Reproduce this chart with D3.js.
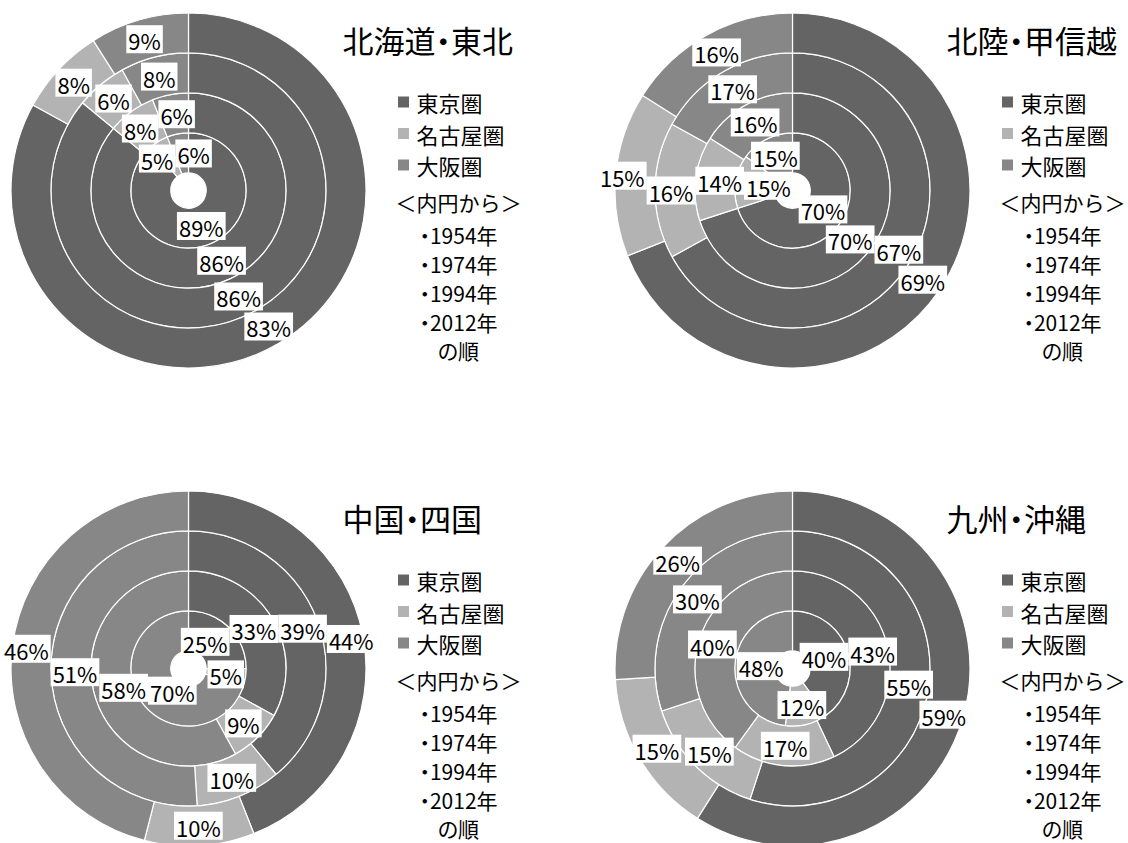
<!DOCTYPE html>
<html>
<head>
<meta charset="utf-8">
<script src="https://cdn.jsdelivr.net/npm/d3@7"></script>
<style>
  body { margin: 0; background: #fff; }
  svg { display: block; }
  .prop { font-feature-settings: "palt" 1; }
</style>
</head>
<body>
<svg id="chart" width="1128" height="843"></svg>
<script>
// Share of people moving to each metropolitan area, by origin region.
// Rings run from the inside out: 1954, 1974, 1994, 2012.
const regions = ["北海道・東北", "北陸・甲信越", "中国・四国", "九州・沖縄"];
const years = ["1954年", "1974年", "1994年", "2012年"];
const areas = ["東京圏", "名古屋圏", "大阪圏"];

// Percent values, one row per region, one entry per year (inner → outer)
const tokyoShare  = [[89, 86, 86, 83], [70, 70, 67, 69], [25, 33, 39, 44], [40, 43, 55, 59]];
const nagoyaShare = [[5, 8, 6, 8],     [15, 14, 16, 15], [5, 9, 10, 10],   [12, 17, 15, 15]];
const osakaShare  = [[6, 6, 8, 9],     [15, 16, 17, 16], [70, 58, 51, 46], [48, 40, 30, 26]];

const noteHead = "＜内円から＞";
const noteTail = "の順";

const colors = ["#646464", "#b3b3b3", "#878787"];
const jpFont = "'Noto Sans CJK JP', sans-serif";

const W = 1128;
const svg = d3.select("#chart");
const R = 177.5;
const hole = R * 0.1;
const ringW = (R - hole) / years.length;
const pie = d3.pie().sort(null).value(d => d.v);
const LABEL_SIZE = 22;
const BOX_H = 28;

regions.forEach((name, i) => {
  const cx = 188.5 + (i % 2) * 604;
  const cy = 190.5 + Math.floor(i / 2) * 478;
  const g = svg.append("g").attr("transform", `translate(${cx},${cy})`);
  const labels = [];

  years.forEach((yr, k) => {
    const vals = [tokyoShare[i][k], nagoyaShare[i][k], osakaShare[i][k]].map((v, j) => ({ v, j }));
    const arc = d3.arc().innerRadius(hole + k * ringW).outerRadius(hole + (k + 1) * ringW);
    const arcs = pie(vals);
    g.append("g").selectAll("path").data(arcs).enter().append("path")
      .attr("d", arc)
      .attr("fill", d => colors[d.data.j])
      .attr("stroke", "#fff")
      .attr("stroke-width", 1.2);
    arcs.forEach(a => {
      const [x, y] = arc.centroid(a);
      labels.push({ x, y, text: a.data.v + "%" });
    });
  });

  // data labels on white boxes
  const lg = g.append("g");
  const nodes = labels.map(d => {
    const t = lg.append("text").attr("font-family", jpFont).attr("font-size", LABEL_SIZE).text(d.text);
    const w = t.node().getComputedTextLength() + 4;
    t.remove();
    return Object.assign({}, d, { w, h: BOX_H + 2 });
  });
  // nudge overlapping boxes apart, sideways by preference, keeping them on the page
  for (let it = 0; it < 80; it++) {
    for (let a = 0; a < nodes.length; a++) {
      for (let b = a + 1; b < nodes.length; b++) {
        const A = nodes[a], B = nodes[b];
        const ox = (A.w + B.w) / 2 - Math.abs(A.x - B.x);
        const oy = (A.h + B.h) / 2 - Math.abs(A.y - B.y);
        if (ox > 0 && oy > 0) {
          if (ox < oy * 2) {
            const s = (A.x <= B.x ? -1 : 1) * ox / 4;
            A.x += s; B.x -= s;
          } else {
            const s = (A.y <= B.y ? -1 : 1) * oy / 4;
            A.y += s; B.y -= s;
          }
        }
      }
    }
    nodes.forEach(d => {
      d.x = Math.max(-cx + d.w / 2 + 2, Math.min(W - cx - d.w / 2 - 2, d.x));
    });
  }
  nodes.forEach(d => {
    lg.append("rect").attr("x", d.x - d.w / 2).attr("y", d.y - BOX_H / 2)
      .attr("width", d.w).attr("height", BOX_H).attr("fill", "#fff");
    lg.append("text").attr("x", d.x).attr("y", d.y + 1)
      .attr("font-family", jpFont).attr("font-size", LABEL_SIZE)
      .attr("text-anchor", "middle").attr("dominant-baseline", "central")
      .attr("fill", "#000").text(d.text);
  });

  // title
  g.append("text").attr("class", "prop").attr("x", 154).attr("y", -151.5)
    .attr("dominant-baseline", "central")
    .attr("font-family", jpFont).attr("font-size", 31).attr("fill", "#000")
    .text(name);

  // legend
  areas.forEach((a, j) => {
    const y = -88.5 + j * 31.5;
    g.append("rect").attr("x", 209.5).attr("y", y - 5.5).attr("width", 11).attr("height", 11)
      .attr("fill", colors[j]);
    g.append("text").attr("x", 228).attr("y", y).attr("dominant-baseline", "central")
      .attr("font-family", jpFont).attr("font-size", 22).attr("fill", "#000").text(a);
  });

  // ring order note
  const noteLines = [noteHead].concat(years.map(y => "・" + y), [noteTail]);
  const noteY = [11.5, 44.5, 73.5, 102.5, 131.5, 159.5];
  noteLines.forEach((t, j) => {
    g.append("text").attr("class", j > 0 ? "prop" : null)
      .attr("x", 270).attr("y", noteY[j])
      .attr("text-anchor", "middle").attr("dominant-baseline", "central")
      .attr("font-family", jpFont).attr("font-size", 21).attr("fill", "#000").text(t);
  });
});
</script>
</body>
</html>
